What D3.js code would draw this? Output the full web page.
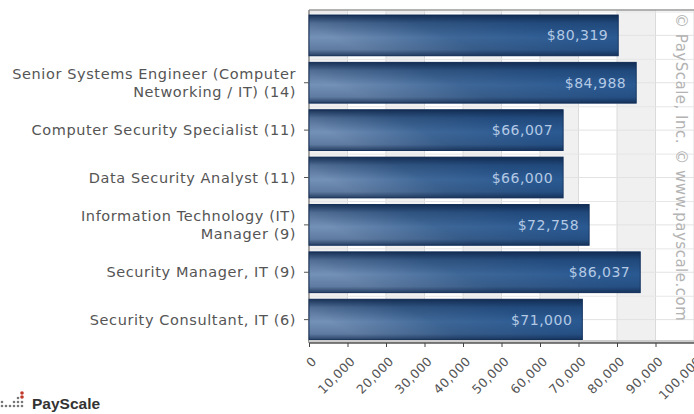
<!DOCTYPE html>
<html><head><meta charset="utf-8">
<script src="https://cdn.jsdelivr.net/npm/d3@7"></script>
<style>body{margin:0;background:#fff}svg{display:block}</style>
</head><body>
<svg id="c" width="694" height="414"></svg>
<script>
const categories = [
  [""],
  ["Senior Systems Engineer (Computer", "Networking / IT) (14)"],
  ["Computer Security Specialist (11)"],
  ["Data Security Analyst (11)"],
  ["Information Technology (IT)", "Manager (9)"],
  ["Security Manager, IT (9)"],
  ["Security Consultant, IT (6)"]
];
const values = [80319, 84988, 66007, 66000, 72758, 86037, 71000];
const valueLabels = ["$80,319", "$84,988", "$66,007", "$66,000", "$72,758", "$86,037", "$71,000"];
const ticks = [0,10000,20000,30000,40000,50000,60000,70000,80000,90000,100000];

const svg = d3.select("#c");
const L = 309, R = 694, T = 10, B = 343;
const x = d3.scaleLinear().domain([0,100000]).range([L,R]);
const y = d3.scaleBand().domain(d3.range(values.length)).range([15,340]).paddingInner(0.14).paddingOuter(0.0);
const font = "'DejaVu Sans', Verdana, sans-serif";

const defs = svg.append("defs");
const gh = defs.append("linearGradient").attr("id","gh").attr("x1",0).attr("x2",1).attr("y1",0.3).attr("y2",0);
gh.append("stop").attr("offset","0").attr("stop-color","#7390b6");
gh.append("stop").attr("offset","0.35").attr("stop-color","#3f6898");
gh.append("stop").attr("offset","0.7").attr("stop-color","#2c5b93");
gh.append("stop").attr("offset","1").attr("stop-color","#285890");
const gv = defs.append("linearGradient").attr("id","gv").attr("x1",0).attr("x2",0).attr("y1",0).attr("y2",1);
gv.append("stop").attr("offset","0").attr("stop-color","#0d2448").attr("stop-opacity",0.85);
gv.append("stop").attr("offset","0.2").attr("stop-color","#0d2448").attr("stop-opacity",0.3);
gv.append("stop").attr("offset","0.55").attr("stop-color","#0d2448").attr("stop-opacity",0);
gv.append("stop").attr("offset","0.85").attr("stop-color","#0d2448").attr("stop-opacity",0.2);
gv.append("stop").attr("offset","1").attr("stop-color","#0d2448").attr("stop-opacity",0.75);

// alternating background bands
const bands = d3.range(ticks.length-1);
svg.append("g").selectAll("rect").data(bands).join("rect")
  .attr("x", i=>x(ticks[i])).attr("width", i=>x(ticks[i+1])-x(ticks[i]))
  .attr("y", T).attr("height", B-T)
  .attr("fill", i=> i%2===0 ? "#f0f0f0" : "#ffffff");
// vertical grid
svg.append("g").selectAll("line").data(ticks).join("line")
  .attr("x1",d=>x(d)).attr("x2",d=>x(d)).attr("y1",T).attr("y2",B)
  .attr("stroke","#dadada").attr("stroke-width",1);
// horizontal grid at band centers and separators
svg.append("g").selectAll("line").data(d3.range(values.length)).join("line")
  .attr("x1",L).attr("x2",R).attr("y1",i=>y(i)+y.bandwidth()/2).attr("y2",i=>y(i)+y.bandwidth()/2)
  .attr("stroke","#e2e2e2");
svg.append("g").selectAll("line").data(d3.range(values.length)).join("line")
  .attr("x1",L).attr("x2",R).attr("y1",i=>y(i)-3).attr("y2",i=>y(i)-3)
  .attr("stroke","#e6e6e6");

// plot border top/left
svg.append("line").attr("x1",L).attr("x2",R).attr("y1",T).attr("y2",T).attr("stroke","#9a9a9a").attr("stroke-width",1.5);
svg.append("line").attr("x1",L).attr("x2",L).attr("y1",T).attr("y2",B).attr("stroke","#8a8a8a").attr("stroke-width",1.5);

// watermark
svg.append("text").attr("transform",`translate(676,13) rotate(90)`)
  .attr("font-family",font).attr("font-size",15).attr("letter-spacing",0.5).attr("fill","#b3b3b3")
  .text("© PayScale, Inc. © www.payscale.com");

// bars
const bars = svg.append("g");
bars.selectAll("rect.b").data(values).join("rect").attr("class","b")
  .attr("x",x(0)).attr("y",(d,i)=>y(i)).attr("width",d=>x(d)-x(0)).attr("height",y.bandwidth())
  .attr("fill","url(#gh)").attr("stroke","#1c3a66").attr("stroke-width",1);
bars.selectAll("rect.o").data(values).join("rect").attr("class","o")
  .attr("x",x(0)).attr("y",(d,i)=>y(i)).attr("width",d=>x(d)-x(0)).attr("height",y.bandwidth())
  .attr("fill","url(#gv)");
bars.selectAll("text").data(values).join("text")
  .attr("x",d=>x(d)-10).attr("y",(d,i)=>y(i)+y.bandwidth()/2+5)
  .attr("text-anchor","end").attr("font-family",font).attr("font-size",14).attr("letter-spacing",0.5)
  .attr("fill","#b4c9e4").text((d,i)=>valueLabels[i]);

// category labels & ticks
const cat = svg.append("g");
categories.forEach((lines,i)=>{
  const cy = y(i)+y.bandwidth()/2;
  if (lines[0] !== "") {
    cat.append("line").attr("x1",L-5).attr("x2",L).attr("y1",cy).attr("y2",cy).attr("stroke","#555");
  }
  const n = lines.length;
  lines.forEach((s,k)=>{
    cat.append("text").attr("x",296).attr("y",cy+5+(k-(n-1)/2)*18)
      .attr("text-anchor","end").attr("font-family",font).attr("font-size",14.5).attr("letter-spacing",0.6)
      .attr("fill","#555").text(s);
  });
});

// x axis
svg.append("rect").attr("x",L).attr("y",B-3).attr("width",R-L).attr("height",3).attr("fill","#cccccc");
svg.append("line").attr("x1",L).attr("x2",R).attr("y1",B).attr("y2",B).attr("stroke","#555").attr("stroke-width",1.5);
const xa = svg.append("g").attr("transform",`translate(0,${B})`)
  .call(d3.axisBottom(x).tickValues(ticks).tickSize(4).tickFormat(d3.format(",")));
xa.select(".domain").remove();
xa.selectAll(".tick line").attr("stroke","#444");
xa.selectAll(".tick text")
  .attr("font-family",font).attr("font-size",12.5).attr("letter-spacing",0.4).attr("fill","#555")
  .attr("text-anchor","end").attr("dy",0).attr("y",0)
  .attr("transform","translate(8,19) rotate(-45)");

// logo
const logo = svg.append("g").attr("transform","translate(0,394)");
const dots = [[2,12],[2,8],[6,12],[10,12],[14,12],[14,8],[18,12],[18,8],[18,4],[22,12],[22,8]];
logo.selectAll("circle.g").data(dots).join("circle").attr("class","g")
  .attr("cx",d=>d[0]).attr("cy",d=>d[1]).attr("r",1.3).attr("fill","#777");
logo.selectAll("circle.r").data([[22,-1],[22,3]]).join("circle").attr("class","r")
  .attr("cx",d=>d[0]).attr("cy",d=>d[1]).attr("r",1.8).attr("fill","#c0392b");
logo.append("text").attr("x",32).attr("y",15).attr("font-family","'Liberation Sans', Arial, sans-serif")
  .attr("font-weight","bold").attr("font-size",15.5).attr("fill","#333").text("PayScale");
</script>
</body></html>
